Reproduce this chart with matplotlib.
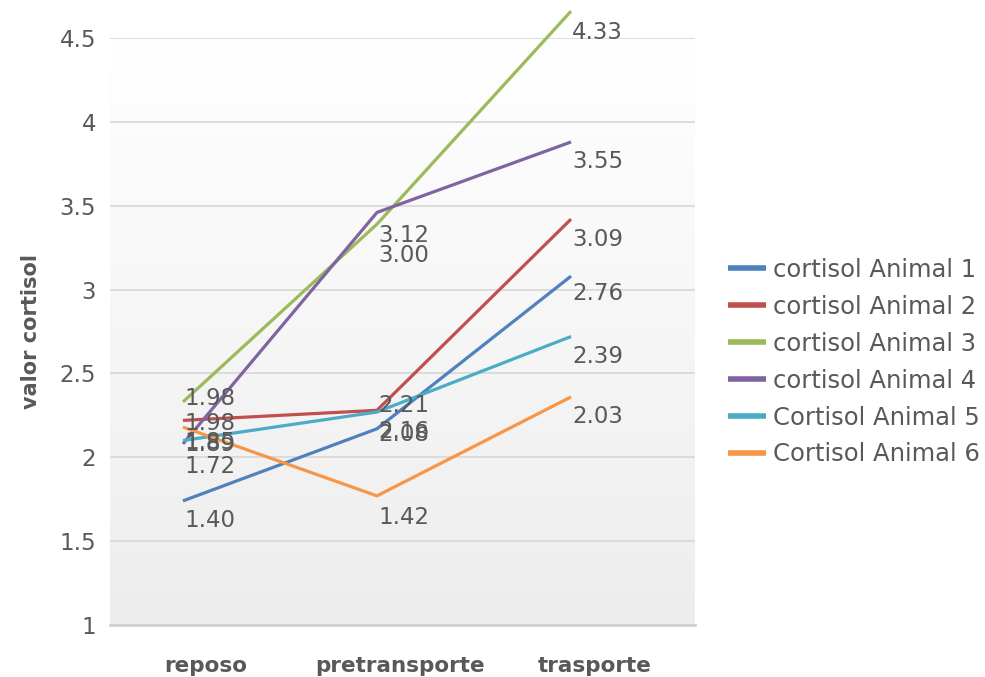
import numpy as np
import matplotlib

matplotlib.use("Agg")

import matplotlib.pyplot as plt
from matplotlib.colors import LinearSegmentedColormap

# categories on the x axis
categories = ["reposo", "pretransporte", "trasporte"]

series_names = [
    "cortisol Animal 1",
    "cortisol Animal 2",
    "cortisol Animal 3",
    "cortisol Animal 4",
    "Cortisol Animal 5",
    "Cortisol Animal 6",
]

# line values as drawn on the chart
animal_1 = [1.74, 2.17, 3.08]
animal_2 = [2.22, 2.28, 3.42]
animal_3 = [2.33, 3.39, 4.66]
animal_4 = [2.08, 3.46, 3.88]
animal_5 = [2.10, 2.27, 2.72]
animal_6 = [2.18, 1.77, 2.36]

# data labels as printed on the chart
labels_1 = ["1.40", "2.08", "2.76"]
labels_2 = ["1.98", "2.21", "3.09"]
labels_3 = ["1.98", "3.00", "4.33"]
labels_4 = ["1.72", "3.12", "3.55"]
labels_5 = ["1.85", "2.16", "2.39"]
labels_6 = ["1.89", "1.42", "2.03"]

values = [animal_1, animal_2, animal_3, animal_4, animal_5, animal_6]
labels = [labels_1, labels_2, labels_3, labels_4, labels_5, labels_6]

colors = ["#4F81BD", "#C0504D", "#9BBB59", "#8064A2", "#4BACC6", "#F79646"]

# how far below the line each label sits (pixels)
label_drop = [
    [20, 6, 17],
    [3, -5, 20],
    [-3, 31, 21],
    [23, 23, 20],
    [2, 19, 20],
    [17, 22, 20],
]

GREY = "#595959"
W, H = 985, 677

fig = plt.figure(figsize=(W / 100, H / 100), dpi=100)
ax = fig.add_axes([110 / W, (H - 625) / H, (695 - 110) / W, (625 - 38) / H])

# soft grey gradient behind the plot
cmap = LinearSegmentedColormap.from_list("bg", ["#EDEDED", "#FFFFFF"])
grad = np.linspace(0, 1, 256).reshape(-1, 1)
ax.imshow(grad, aspect="auto", cmap=cmap, origin="lower",
          extent=[0, 1, 0, 1], transform=ax.transAxes, zorder=0)

x = np.arange(len(categories))
for vals, labs, drops, name, col in zip(values, labels, label_drop,
                                        series_names, colors):
    ax.plot(x, vals, color=col, lw=2.3, label=name, zorder=3,
            clip_on=False, solid_capstyle="butt")
    for xi, v, lab, d in zip(x, vals, labs, drops):
        ax.annotate(lab, (xi, v), xytext=(1, -d), textcoords="offset pixels",
                    ha="left", va="center", fontsize=16.5, color=GREY,
                    zorder=4, annotation_clip=False)

ax.set_xlim(-0.376, 2.639)
ax.set_ylim(1, 4.5)
ax.set_yticks(np.arange(1, 4.51, 0.5))
ax.set_yticklabels(["1", "1.5", "2", "2.5", "3", "3.5", "4", "4.5"])
ax.set_xticks(x + 0.12)
ax.set_xticklabels(categories, fontweight="bold", fontsize=15.5, color=GREY)

ax.grid(axis="y", color="#D9D9D9", lw=1.3, zorder=1)
ax.set_axisbelow(True)
for s in ["top", "right", "left"]:
    ax.spines[s].set_visible(False)
ax.spines["bottom"].set_color("#D0D0D0")
ax.spines["bottom"].set_linewidth(2)

ax.tick_params(axis="y", length=0, pad=10, labelsize=16.5, labelcolor=GREY)
ax.tick_params(axis="x", length=0, pad=22)

ax.set_ylabel("valor cortisol", fontsize=15, fontweight="bold", color=GREY)
ax.yaxis.set_label_coords(-0.118, 0.5)

leg = ax.legend(loc="upper left", bbox_to_anchor=(728 / W, 1 - 258 / H),
                bbox_transform=fig.transFigure, frameon=False, fontsize=17.5,
                handlelength=1.55, handletextpad=0.3, labelspacing=0.53,
                borderpad=0, borderaxespad=0)
for t in leg.get_texts():
    t.set_color(GREY)
for h in leg.get_lines():
    h.set_linewidth(4)

fig.savefig("out.png", dpi=100)
